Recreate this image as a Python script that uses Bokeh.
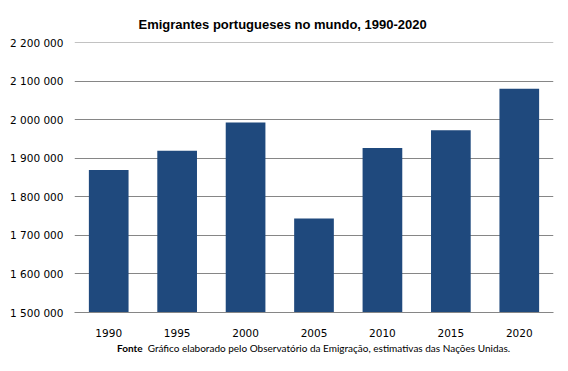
from bokeh.plotting import figure
from bokeh.models import ColumnDataSource, FixedTicker, CustomJSTickFormatter, Range1d, Div
from bokeh.layouts import column
from bokeh.embed import file_html
from bokeh.resources import INLINE

years = ["1990", "1995", "2000", "2005", "2010", "2015", "2020"]
emigrants = [1870000, 1920000, 1993000, 1744000, 1927000, 1973000, 2081000]
y_ticks = [1500000, 1600000, 1700000, 1800000, 1900000, 2000000, 2100000, 2200000]
title_text = "Emigrantes portugueses  no mundo, 1990-2020"
source_label = "Fonte"
source_text = "Gráfico elaborado pelo Observatório da Emigração, estimativas das Nações Unidas."

y_min, y_max = y_ticks[0], y_ticks[-1]

src = ColumnDataSource(dict(year=years, value=emigrants, base=[y_min] * len(years)))

p = figure(x_range=years, width=560, height=340, output_backend="svg",
           toolbar_location=None, min_border_left=74, min_border_right=7,
           min_border_top=42, min_border_bottom=28)
p.y_range = Range1d(y_min, y_max + 1000)
p.x_range.range_padding = 0

p.vbar(x="year", top="value", bottom="base", width=0.58, source=src,
       fill_color="#1F497D", line_color=None)

p.title.text = title_text
p.title.align = "left"
p.title.offset = 64
p.title.standoff = 21
p.title.text_font = "Liberation Sans"
p.title.text_font_style = "bold"
p.title.text_font_size = "13px"
p.title.text_color = "#000000"

p.outline_line_color = None
p.background_fill_color = "white"
p.border_fill_color = "white"
p.xgrid.grid_line_color = None
p.ygrid.grid_line_color = "#868686"
p.ygrid.grid_line_width = 1
p.yaxis.ticker = FixedTicker(ticks=y_ticks)
p.yaxis.formatter = CustomJSTickFormatter(code="""
return tick.toFixed(0).replace(/\\B(?=(\\d{3})+(?!\\d))/g, ' ');
""")
p.yaxis.axis_line_color = None
p.yaxis.major_tick_line_color = None
p.yaxis.minor_tick_line_color = None
p.yaxis.major_label_standoff = 5
p.yaxis.major_label_text_font = "DejaVu Sans"
p.yaxis.major_label_text_font_size = "10.5px"
p.yaxis.major_label_text_color = "#000000"

p.xaxis.axis_line_color = "#868686"
p.xaxis.major_tick_line_color = None
p.xaxis.minor_tick_line_color = None
p.xaxis.major_label_standoff = 10
p.xaxis.major_label_text_font = "DejaVu Sans"
p.xaxis.major_label_text_font_size = "10.5px"
p.xaxis.major_label_text_color = "#000000"

note = Div(text=f"<b>{source_label}</b>&nbsp;&nbsp;{source_text}", width=560, height=20,
           margin=(0, 0, 0, 0),
           styles={"font-family": "Lato", "font-size": "10px", "color": "#000000",
                   "padding-left": "117px", "line-height": "17px", "white-space": "nowrap"})

layout = column(p, note, spacing=0)

open("out.html", "w").write(file_html(layout, INLINE))
